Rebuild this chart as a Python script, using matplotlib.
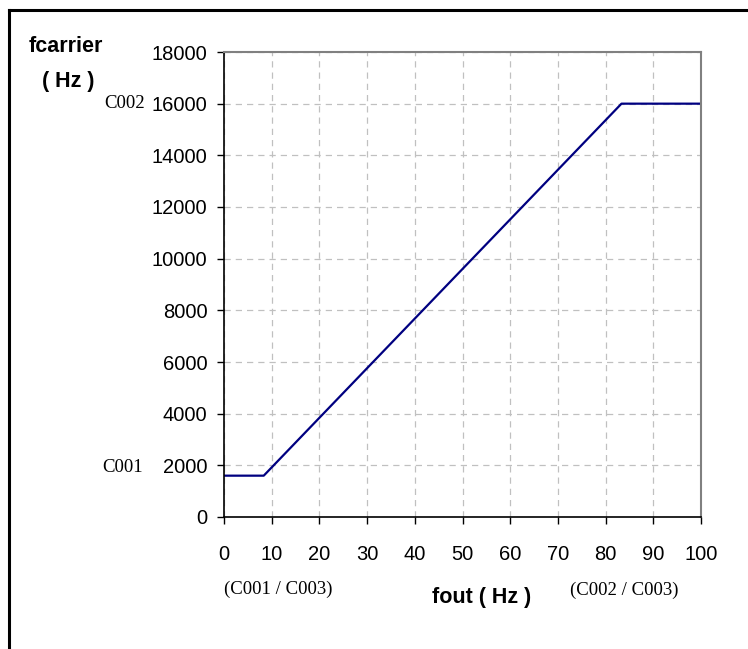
import matplotlib
matplotlib.use("Agg")
import matplotlib.pyplot as plt
from matplotlib.lines import Line2D

# data: carrier frequency vs output frequency
fout = [0, 8.33, 83.33, 100]
fcarrier = [1600, 1600, 16000, 16000]
xticks = list(range(0, 101, 10))
yticks = list(range(0, 18001, 2000))

W, H = 748, 649
fig = plt.figure(figsize=(W / 100, H / 100), dpi=100)

def px(x, y):
    # pixel coords (top-left origin) -> figure fraction
    return x / W, 1 - y / H

# frame lines around the chart (top and left visible)
fig.add_artist(Line2D([9 / W, 1], [1 - 9.5 / H] * 2, color="black", lw=2.2, transform=fig.transFigure))
fig.add_artist(Line2D([9 / W] * 2, [0, 1 - 9.5 / H], color="black", lw=2.2, transform=fig.transFigure))

ax = fig.add_axes([224 / W, 1 - 517 / H, (701 - 224) / W, (517 - 52) / H])
ax.plot(fout, fcarrier, color="#000080", lw=1.6)

ax.set_xlim(0, 100)
ax.set_ylim(0, 18000)
ax.set_xticks(xticks)
ax.set_yticks(yticks)
ax.grid(True, color="#c0c0c0", linestyle=(0, (5, 4)), lw=0.9)
ax.tick_params(direction="out", length=5, width=1, labelsize=14.5, colors="black")
ax.tick_params(axis="x", pad=15)
ax.tick_params(axis="y", pad=7)
for s in ["top", "right"]:
    ax.spines[s].set_color("#808080")
    ax.spines[s].set_linewidth(1.5)
for s in ["left", "bottom"]:
    ax.spines[s].set_color("black")
    ax.spines[s].set_linewidth(1.2)
for lab in ax.get_xticklabels() + ax.get_yticklabels():
    lab.set_family("Liberation Sans")

sans = "Liberation Sans"
serif = "Liberation Serif"
fig.text(*px(66, 47), "fcarrier", ha="center", va="center", fontsize=15.5, fontweight="bold", family=sans)
fig.text(*px(68, 82), "( Hz )", ha="center", va="center", fontsize=15.5, fontweight="bold", family=sans)
fig.text(*px(145, 104), "C002", ha="right", va="center", fontsize=13.5, family=serif)
fig.text(*px(143, 467), "C001", ha="right", va="center", fontsize=13.5, family=serif)
fig.text(*px(278, 589), "(C001 / C003)", ha="center", va="center", fontsize=13.5, family=serif)
fig.text(*px(482, 598), "fout ( Hz )", ha="center", va="center", fontsize=15.5, fontweight="bold", family=sans)
fig.text(*px(624, 590), "(C002 / C003)", ha="center", va="center", fontsize=13.5, family=serif)

fig.savefig("out.png", dpi=100)
